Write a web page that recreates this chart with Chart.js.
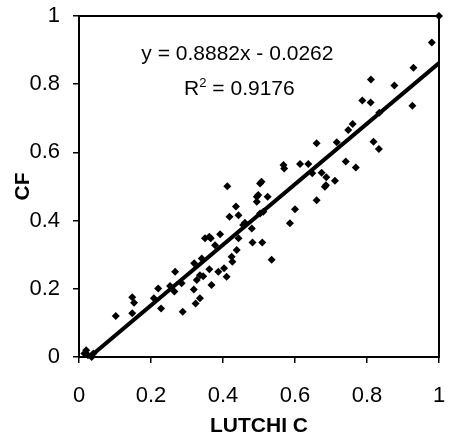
<!DOCTYPE html>
<html>
<head>
<meta charset="utf-8">
<script src="https://cdn.jsdelivr.net/npm/chart.js@4"></script>
<style>
  html, body { margin: 0; padding: 0; background: #fff; }
  #wrap { width: 460px; height: 435px; }
</style>
</head>
<body>
<div id="wrap"><canvas id="chart"></canvas></div>
<script>
// LUTCHI C (x) against CF (y)
const lutchiC = [
  0.015, 0.02, 0.025, 0.035, 0.04,
  0.102, 0.148, 0.153, 0.148, 0.208, 0.228, 0.220, 0.253, 0.267, 0.265,
  0.288, 0.285, 0.320, 0.319, 0.324, 0.336, 0.327, 0.341, 0.336, 0.345,
  0.362, 0.368, 0.350, 0.362, 0.366, 0.378, 0.392, 0.387, 0.403, 0.410,
  0.424, 0.426, 0.438, 0.412, 0.418, 0.436, 0.443, 0.443, 0.461, 0.456,
  0.480, 0.482, 0.509, 0.494, 0.498, 0.494, 0.503, 0.507, 0.524, 0.512,
  0.503, 0.535, 0.568, 0.570, 0.614, 0.637, 0.674, 0.687, 0.686, 0.683,
  0.660, 0.600, 0.586, 0.711, 0.648, 0.660, 0.716, 0.741, 0.769, 0.748,
  0.760, 0.787, 0.810, 0.834, 0.818, 0.833, 0.811, 0.876, 0.926, 0.929,
  0.980, 1.0
]
const cf = [
  0.01, 0.02, 0.005, 0.0, 0.01,
  0.120, 0.175, 0.159, 0.128, 0.172, 0.142, 0.201, 0.208, 0.250, 0.192,
  0.133, 0.216, 0.275, 0.198, 0.157, 0.172, 0.226, 0.289, 0.240, 0.237,
  0.257, 0.211, 0.348, 0.353, 0.348, 0.328, 0.360, 0.250, 0.260, 0.235,
  0.294, 0.279, 0.314, 0.501, 0.411, 0.441, 0.416, 0.348, 0.394, 0.387,
  0.377, 0.336, 0.336, 0.470, 0.475, 0.455, 0.509, 0.514, 0.470, 0.426,
  0.421, 0.285, 0.563, 0.553, 0.566, 0.566, 0.540, 0.527, 0.504, 0.499,
  0.460, 0.433, 0.392, 0.517, 0.539, 0.627, 0.630, 0.573, 0.556, 0.666,
  0.683, 0.752, 0.746, 0.716, 0.631, 0.610, 0.814, 0.796, 0.737, 0.848,
  0.922, 1.0
]

const slope = 0.8882
const intercept = -0.0262
const rSquared = 0.9176
const xTicks = [0, 0.2, 0.4, 0.6, 0.8, 1]
const yTicks = [0, 0.2, 0.4, 0.6, 0.8, 1]

const FONT = 'Liberation Sans, Arial, sans-serif'

const points = lutchiC.map((x, i) => ({ x: x, y: cf[i] }))
// trendline from where it crosses zero to the largest x
const xStart = -intercept / slope
const xEnd = Math.max(...lutchiC)
const trend = [
  { x: xStart, y: slope * xStart + intercept },
  { x: xEnd, y: slope * xEnd + intercept }
]

// keep the plot box where the layout padding puts it
function noEdgePadding (scale) {
  scale.paddingTop = 0
  scale.paddingBottom = 0
  scale.paddingLeft = 0
  scale.paddingRight = 0
}

const frame = {
  id: 'frame',
  beforeDatasetsDraw (chart) {
    const { ctx, chartArea: a } = chart
    ctx.save()
    ctx.strokeStyle = '#000'
    ctx.lineWidth = 2
    ctx.strokeRect(a.left, a.top, a.right - a.left, a.bottom - a.top)
    ctx.restore()
  }
}

const equation = {
  id: 'equation',
  afterDatasetsDraw (chart) {
    const { ctx, chartArea: a } = chart
    const cx = a.left + (a.right - a.left) * 0.44
    ctx.save()
    ctx.fillStyle = '#000'
    ctx.textBaseline = 'alphabetic'
    ctx.font = '21px ' + FONT
    ctx.textAlign = 'center'
    const sign = intercept < 0 ? ' - ' : ' + '
    ctx.fillText('y = ' + slope.toFixed(4) + 'x' + sign + Math.abs(intercept).toFixed(4), cx, a.top + 44)

    // R² line, with a raised small 2
    const rest = ' = ' + rSquared.toFixed(4)
    const wR = ctx.measureText('R').width
    const wRest = ctx.measureText(rest).width
    ctx.font = '13px ' + FONT
    const w2 = ctx.measureText('2').width
    const total = wR + w2 + wRest
    let x = cx + 2 - total / 2
    const base = a.top + 79
    ctx.textAlign = 'left'
    ctx.font = '21px ' + FONT
    ctx.fillText('R', x, base)
    x += wR
    ctx.font = '13px ' + FONT
    ctx.fillText('2', x, base - 8)
    x += w2
    ctx.font = '21px ' + FONT
    ctx.fillText(rest, x, base)
    ctx.restore()
  }
}

new Chart(
  document.getElementById('chart'),
  {
    type: 'scatter',
    data: {
      datasets: [
        {
          label: 'CF',
          data: points,
          pointStyle: 'rectRot',
          pointRadius: 4,
          pointBorderWidth: 0,
          backgroundColor: '#000',
          borderColor: '#000',
          clip: false
        },
        {
          type: 'line',
          label: 'trend',
          data: trend,
          borderColor: '#000',
          borderWidth: 4,
          pointRadius: 0,
          fill: false
        }
      ]
    },
    options: {
      responsive: true,
      maintainAspectRatio: false,
      animation: false,
      layout: { padding: { top: 16, right: 21, left: 0, bottom: 0 } },
      plugins: {
        legend: { display: false },
        tooltip: { enabled: false }
      },
      scales: {
        x: {
          type: 'linear',
          min: 0,
          max: 1,
          afterFit (scale) {
            scale.height = 78
            noEdgePadding(scale)
          },
          afterBuildTicks (scale) { scale.ticks = xTicks.map(v => ({ value: v })) },
          grid: { drawOnChartArea: false, color: '#000', lineWidth: 1.5, tickLength: 6 },
          border: { display: true, color: '#000', width: 2 },
          ticks: {
            color: '#000',
            padding: 20,
            maxRotation: 0,
            font: { family: FONT, size: 22 },
            callback: v => String(v)
          },
          title: {
            display: true,
            text: 'LUTCHI C',
            color: '#000',
            padding: { top: 0, bottom: -4 },
            font: { family: FONT, size: 21, weight: 'bold' }
          }
        },
        y: {
          type: 'linear',
          min: 0,
          max: 1,
          afterFit (scale) {
            scale.width = 79
            noEdgePadding(scale)
          },
          afterBuildTicks (scale) { scale.ticks = yTicks.map(v => ({ value: v })) },
          grid: { drawOnChartArea: false, color: '#000', lineWidth: 1.5, tickLength: 6 },
          border: { display: true, color: '#000', width: 2 },
          ticks: {
            color: '#000',
            padding: 13,
            font: { family: FONT, size: 22 },
            callback: v => String(v)
          },
          title: {
            display: true,
            text: 'CF',
            color: '#000',
            padding: { top: 11, bottom: 0 },
            font: { family: FONT, size: 21, weight: 'bold' }
          }
        }
      }
    },
    plugins: [frame, equation]
  }
)
</script>
</body>
</html>
